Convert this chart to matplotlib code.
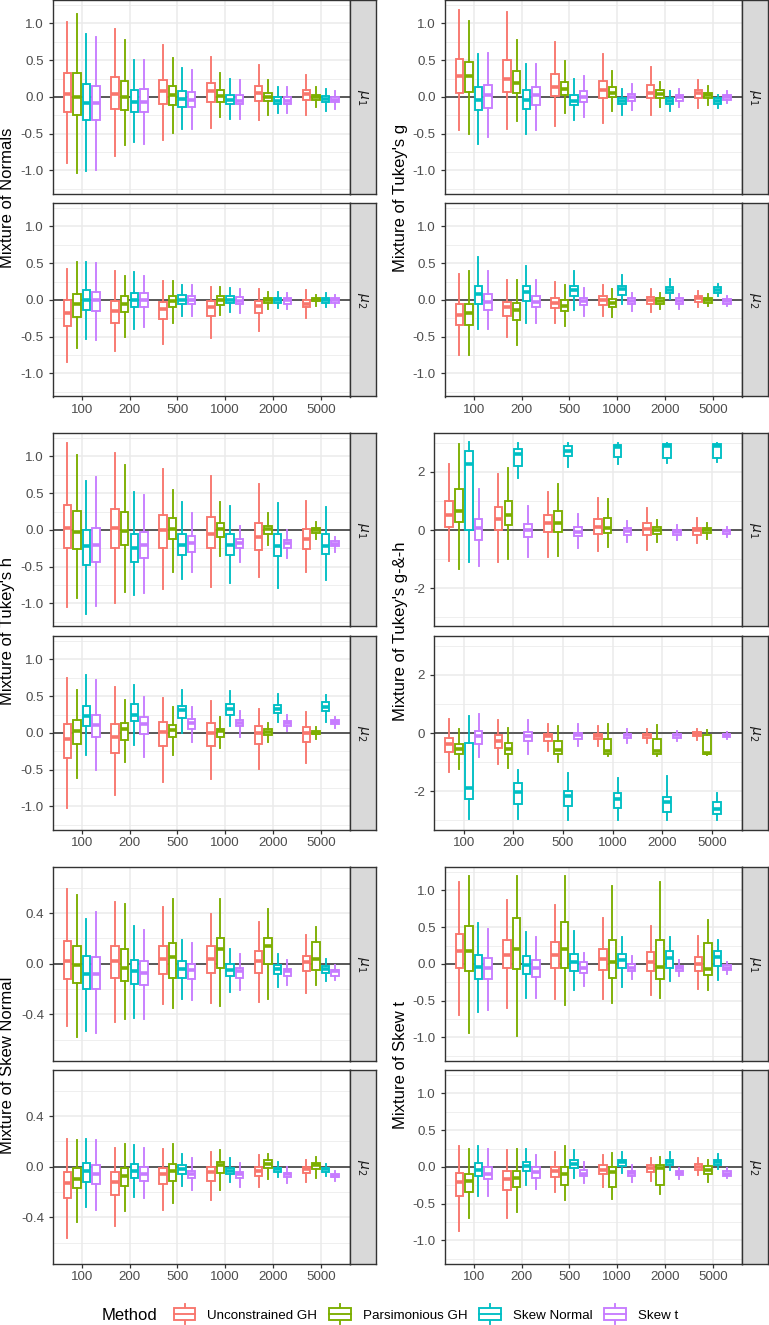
import matplotlib
matplotlib.use("Agg")
import matplotlib.pyplot as plt
from matplotlib.legend_handler import HandlerBase
from matplotlib.patches import Rectangle, Patch
from matplotlib.lines import Line2D
import numpy as np

plt.rcParams['font.family'] = ['Liberation Sans', 'DejaVu Sans']
plt.rcParams['axes.unicode_minus'] = False

W, H = 769, 1325

sample_sizes = ['100', '200', '500', '1000', '2000', '5000']
methods = ['Unconstrained GH', 'Parsimonious GH', 'Skew Normal', 'Skew t']
colors = ['#F8766D', '#7CAE00', '#00BFC4', '#C77CFF']

# every row: lower whisker, q1, median, q3, upper whisker
# rows run n=100 (UGH, PGH, SN, St), n=200 (...), ... n=5000
normals_mu1 = [
    [-0.90, -0.21, 0.04, 0.32, 1.02], [-1.04, -0.24, 0.00, 0.32, 1.13], [-1.01, -0.31, -0.08, 0.17, 0.86], [-0.99, -0.31, -0.08, 0.15, 0.81],
    [-0.80, -0.17, 0.04, 0.27, 0.93], [-0.65, -0.18, 0.00, 0.22, 0.77], [-0.61, -0.20, -0.07, 0.10, 0.50], [-0.64, -0.20, -0.07, 0.11, 0.50],
    [-0.59, -0.10, 0.08, 0.23, 0.71], [-0.49, -0.11, 0.02, 0.15, 0.53], [-0.44, -0.14, -0.03, 0.08, 0.39], [-0.44, -0.14, -0.04, 0.07, 0.37],
    [-0.42, -0.07, 0.08, 0.19, 0.55], [-0.27, -0.07, 0.01, 0.10, 0.33], [-0.30, -0.10, -0.04, 0.03, 0.24], [-0.30, -0.10, -0.05, 0.02, 0.23],
    [-0.32, -0.05, 0.05, 0.15, 0.44], [-0.24, -0.06, 0.00, 0.06, 0.23], [-0.22, -0.09, -0.05, 0.00, 0.13], [-0.22, -0.09, -0.05, 0.00, 0.14],
    [-0.24, -0.04, 0.04, 0.10, 0.30], [-0.14, -0.04, 0.00, 0.03, 0.14], [-0.19, -0.07, -0.03, 0.01, 0.11], [-0.17, -0.07, -0.04, 0.00, 0.08],
]
normals_mu2 = [
    [-0.85, -0.35, -0.18, 0.00, 0.42], [-0.65, -0.23, -0.06, 0.08, 0.52], [-0.53, -0.14, 0.00, 0.13, 0.52], [-0.54, -0.15, 0.00, 0.11, 0.50],
    [-0.70, -0.32, -0.15, -0.02, 0.40], [-0.51, -0.17, -0.05, 0.06, 0.32], [-0.39, -0.10, 0.00, 0.10, 0.38], [-0.37, -0.10, 0.00, 0.09, 0.32],
    [-0.60, -0.26, -0.13, -0.03, 0.26], [-0.31, -0.09, -0.01, 0.05, 0.26], [-0.22, -0.06, 0.00, 0.07, 0.21], [-0.22, -0.06, 0.00, 0.05, 0.21],
    [-0.52, -0.22, -0.10, -0.02, 0.17], [-0.20, -0.07, 0.00, 0.05, 0.18], [-0.16, -0.04, 0.00, 0.05, 0.16], [-0.18, -0.06, -0.01, 0.04, 0.15],
    [-0.42, -0.18, -0.08, -0.02, 0.15], [-0.13, -0.04, 0.00, 0.03, 0.11], [-0.11, -0.04, 0.00, 0.03, 0.11], [-0.13, -0.05, 0.00, 0.02, 0.10],
    [-0.25, -0.10, -0.06, 0.00, 0.13], [-0.08, -0.02, 0.00, 0.02, 0.07], [-0.10, -0.04, 0.00, 0.03, 0.09], [-0.10, -0.04, 0.00, 0.02, 0.07],
]
tukey_g_mu1 = [
    [-0.45, 0.05, 0.29, 0.51, 1.19], [-0.51, 0.07, 0.28, 0.47, 1.03], [-0.64, -0.18, -0.04, 0.14, 0.59], [-0.54, -0.15, 0.02, 0.16, 0.60],
    [-0.44, 0.07, 0.25, 0.50, 1.15], [-0.33, 0.05, 0.19, 0.35, 0.77], [-0.50, -0.17, -0.04, 0.09, 0.45], [-0.45, -0.11, 0.02, 0.14, 0.45],
    [-0.40, 0.01, 0.14, 0.31, 0.75], [-0.22, 0.02, 0.11, 0.21, 0.49], [-0.32, -0.11, -0.05, 0.03, 0.25], [-0.27, -0.07, 0.00, 0.08, 0.28],
    [-0.35, -0.02, 0.09, 0.22, 0.59], [-0.19, 0.00, 0.06, 0.14, 0.35], [-0.25, -0.10, -0.06, -0.01, 0.11], [-0.18, -0.05, 0.00, 0.04, 0.17],
    [-0.24, -0.01, 0.06, 0.16, 0.41], [-0.14, -0.01, 0.04, 0.09, 0.21], [-0.19, -0.10, -0.05, -0.02, 0.08], [-0.14, -0.05, 0.00, 0.03, 0.11],
    [-0.15, -0.01, 0.05, 0.09, 0.23], [-0.11, -0.02, 0.02, 0.05, 0.15], [-0.15, -0.09, -0.05, -0.02, 0.03], [-0.08, -0.04, 0.00, 0.02, 0.08],
]
tukey_g_mu2 = [
    [-0.75, -0.34, -0.20, -0.06, 0.35], [-0.75, -0.34, -0.18, -0.05, 0.39], [-0.40, -0.05, 0.08, 0.19, 0.58], [-0.40, -0.14, -0.03, 0.08, 0.40],
    [-0.51, -0.22, -0.10, -0.03, 0.27], [-0.61, -0.27, -0.14, -0.04, 0.27], [-0.32, -0.01, 0.11, 0.19, 0.46], [-0.32, -0.10, -0.03, 0.05, 0.27],
    [-0.32, -0.11, -0.04, 0.03, 0.25], [-0.36, -0.15, -0.08, 0.00, 0.20], [-0.14, 0.05, 0.13, 0.19, 0.39], [-0.22, -0.07, -0.01, 0.03, 0.16],
    [-0.22, -0.07, 0.00, 0.05, 0.20], [-0.23, -0.09, -0.04, 0.01, 0.15], [-0.06, 0.07, 0.15, 0.19, 0.34], [-0.15, -0.06, -0.02, 0.02, 0.10],
    [-0.16, -0.05, 0.00, 0.04, 0.15], [-0.13, -0.06, -0.01, 0.02, 0.10], [0.01, 0.09, 0.14, 0.18, 0.28], [-0.13, -0.06, -0.01, 0.02, 0.08],
    [-0.10, -0.03, 0.02, 0.05, 0.12], [-0.08, -0.04, 0.00, 0.03, 0.08], [0.05, 0.10, 0.14, 0.17, 0.22], [-0.08, -0.05, -0.01, 0.01, 0.05],
]
tukey_h_mu1 = [
    [-1.05, -0.24, 0.03, 0.34, 1.18], [-0.93, -0.26, -0.03, 0.26, 1.02], [-1.15, -0.48, -0.22, 0.00, 0.67], [-1.03, -0.44, -0.20, 0.03, 0.72],
    [-0.99, -0.24, 0.02, 0.28, 1.05], [-0.84, -0.20, -0.01, 0.24, 0.89], [-0.89, -0.43, -0.25, -0.06, 0.51], [-0.86, -0.38, -0.21, -0.03, 0.48],
    [-0.81, -0.24, 0.00, 0.21, 0.83], [-0.57, -0.13, 0.01, 0.16, 0.54], [-0.67, -0.34, -0.21, -0.05, 0.38], [-0.57, -0.30, -0.18, -0.08, 0.23],
    [-0.78, -0.25, -0.06, 0.17, 0.74], [-0.36, -0.10, 0.01, 0.10, 0.38], [-0.72, -0.34, -0.20, -0.05, 0.33], [-0.43, -0.25, -0.18, -0.12, 0.05],
    [-0.64, -0.27, -0.09, 0.10, 0.62], [-0.21, -0.06, 0.01, 0.06, 0.23], [-0.79, -0.35, -0.22, -0.05, 0.36], [-0.38, -0.24, -0.18, -0.14, 0.00],
    [-0.57, -0.26, -0.12, 0.01, 0.39], [-0.13, -0.04, 0.00, 0.03, 0.11], [-0.68, -0.33, -0.22, -0.05, 0.31], [-0.30, -0.22, -0.19, -0.15, -0.09],
]
tukey_h_mu2 = [
    [-1.02, -0.34, -0.08, 0.12, 0.75], [-0.61, -0.15, 0.02, 0.17, 0.58], [-0.30, 0.09, 0.23, 0.37, 0.79], [-0.50, -0.05, 0.11, 0.25, 0.72],
    [-0.84, -0.27, -0.05, 0.12, 0.63], [-0.40, -0.09, 0.05, 0.14, 0.45], [-0.17, 0.16, 0.25, 0.39, 0.65], [-0.33, -0.01, 0.12, 0.22, 0.49],
    [-0.67, -0.18, 0.01, 0.15, 0.48], [-0.30, -0.06, 0.04, 0.11, 0.35], [0.00, 0.21, 0.31, 0.37, 0.59], [-0.13, 0.05, 0.13, 0.19, 0.35],
    [-0.63, -0.18, 0.00, 0.14, 0.43], [-0.20, -0.05, 0.02, 0.06, 0.22], [0.09, 0.25, 0.32, 0.39, 0.57], [-0.05, 0.09, 0.14, 0.18, 0.30],
    [-0.49, -0.15, 0.00, 0.10, 0.32], [-0.13, -0.03, 0.01, 0.05, 0.14], [0.15, 0.27, 0.33, 0.38, 0.53], [0.03, 0.10, 0.14, 0.16, 0.24],
    [-0.41, -0.12, 0.00, 0.08, 0.29], [-0.08, -0.02, 0.00, 0.03, 0.08], [0.15, 0.30, 0.35, 0.42, 0.51], [0.07, 0.12, 0.15, 0.17, 0.22],
]
tukey_gh_mu1 = [
    [-1.07, 0.10, 0.51, 0.98, 2.27], [-1.33, 0.28, 0.66, 1.41, 2.95], [-1.11, 0.01, 2.27, 2.72, 3.02], [-1.22, -0.33, 0.07, 0.38, 1.41],
    [-1.11, 0.01, 0.39, 0.79, 1.91], [-0.98, 0.17, 0.52, 0.98, 2.13], [1.80, 2.20, 2.60, 2.78, 3.00], [-0.92, -0.25, 0.00, 0.22, 0.83],
    [-0.92, -0.07, 0.25, 0.52, 1.32], [-0.90, -0.06, 0.24, 0.64, 1.57], [2.18, 2.55, 2.71, 2.88, 2.99], [-0.62, -0.22, -0.07, 0.10, 0.55],
    [-0.71, -0.14, 0.09, 0.38, 1.09], [-0.58, -0.10, 0.07, 0.43, 1.06], [2.26, 2.52, 2.84, 2.92, 2.99], [-0.41, -0.17, -0.02, 0.07, 0.30],
    [-0.67, -0.16, 0.05, 0.24, 0.77], [-0.42, -0.14, 0.01, 0.09, 0.35], [2.31, 2.46, 2.89, 2.94, 2.99], [-0.33, -0.16, -0.07, 0.01, 0.18],
    [-0.44, -0.16, -0.01, 0.07, 0.41], [-0.30, -0.10, 0.00, 0.07, 0.24], [2.35, 2.46, 2.89, 2.94, 2.99], [-0.25, -0.13, -0.05, 0.01, 0.10],
]
tukey_gh_mu2 = [
    [-1.33, -0.65, -0.36, -0.17, 0.49], [-1.22, -0.73, -0.54, -0.36, 0.15], [-2.95, -2.25, -1.87, -0.34, 0.58], [-0.82, -0.36, -0.11, 0.07, 0.66],
    [-1.05, -0.50, -0.27, -0.08, 0.46], [-1.20, -0.71, -0.54, -0.34, 0.17], [-2.96, -2.42, -2.02, -1.71, -1.28], [-0.71, -0.27, -0.11, 0.03, 0.46],
    [-0.62, -0.28, -0.11, -0.05, 0.30], [-0.99, -0.71, -0.59, -0.27, 0.24], [-2.99, -2.51, -2.17, -1.99, -1.37], [-0.46, -0.19, -0.08, 0.00, 0.30],
    [-0.46, -0.22, -0.11, -0.02, 0.24], [-0.80, -0.71, -0.63, -0.22, 0.30], [-2.99, -2.56, -2.25, -2.05, -1.54], [-0.34, -0.16, -0.08, -0.02, 0.14],
    [-0.34, -0.16, -0.08, -0.02, 0.13], [-0.79, -0.71, -0.62, -0.19, 0.26], [-2.99, -2.70, -2.36, -2.19, -1.48], [-0.27, -0.16, -0.08, -0.02, 0.07],
    [-0.23, -0.10, -0.02, 0.03, 0.13], [-0.76, -0.73, -0.67, -0.08, 0.09], [-2.99, -2.78, -2.59, -2.36, -2.07], [-0.22, -0.14, -0.08, -0.02, 0.02],
]
skew_normal_mu1 = [
    [-0.49, -0.12, 0.02, 0.18, 0.59], [-0.58, -0.15, -0.01, 0.14, 0.54], [-0.53, -0.20, -0.08, 0.06, 0.35], [-0.55, -0.20, -0.08, 0.05, 0.41],
    [-0.46, -0.11, 0.02, 0.14, 0.49], [-0.44, -0.14, -0.03, 0.12, 0.47], [-0.43, -0.16, -0.06, 0.03, 0.30], [-0.44, -0.17, -0.07, 0.02, 0.27],
    [-0.32, -0.08, 0.04, 0.14, 0.45], [-0.35, -0.11, 0.05, 0.16, 0.51], [-0.28, -0.11, -0.04, 0.02, 0.19], [-0.29, -0.12, -0.05, 0.00, 0.16],
    [-0.31, -0.07, 0.04, 0.14, 0.39], [-0.33, -0.03, 0.12, 0.20, 0.51], [-0.22, -0.10, -0.05, 0.00, 0.12], [-0.21, -0.11, -0.06, -0.03, 0.08],
    [-0.30, -0.07, 0.02, 0.10, 0.33], [-0.28, 0.00, 0.14, 0.20, 0.43], [-0.18, -0.08, -0.04, -0.01, 0.08], [-0.17, -0.10, -0.06, -0.04, 0.03],
    [-0.23, -0.06, 0.01, 0.06, 0.23], [-0.17, -0.05, 0.04, 0.17, 0.29], [-0.14, -0.07, -0.04, -0.02, 0.04], [-0.13, -0.10, -0.06, -0.05, -0.01],
]
skew_normal_mu2 = [
    [-0.56, -0.25, -0.13, -0.04, 0.22], [-0.44, -0.17, -0.10, -0.01, 0.21], [-0.32, -0.12, -0.03, 0.03, 0.22], [-0.34, -0.14, -0.06, 0.01, 0.21],
    [-0.47, -0.22, -0.12, -0.04, 0.15], [-0.35, -0.15, -0.07, -0.01, 0.18], [-0.24, -0.09, -0.03, 0.02, 0.17], [-0.25, -0.11, -0.06, 0.00, 0.15],
    [-0.34, -0.14, -0.06, -0.01, 0.14], [-0.29, -0.11, -0.03, 0.02, 0.18], [-0.15, -0.06, -0.02, 0.01, 0.10], [-0.18, -0.09, -0.06, -0.03, 0.07],
    [-0.26, -0.11, -0.04, 0.00, 0.12], [-0.18, -0.05, 0.01, 0.04, 0.13], [-0.12, -0.06, -0.03, -0.01, 0.07], [-0.16, -0.09, -0.06, -0.04, 0.03],
    [-0.16, -0.07, -0.03, 0.00, 0.09], [-0.10, -0.01, 0.02, 0.05, 0.10], [-0.08, -0.04, -0.02, -0.01, 0.04], [-0.13, -0.08, -0.06, -0.05, 0.00],
    [-0.12, -0.05, -0.02, 0.00, 0.05], [-0.09, -0.02, 0.01, 0.03, 0.08], [-0.07, -0.04, -0.02, -0.01, 0.02], [-0.11, -0.08, -0.07, -0.06, -0.03],
]
skew_t_mu1 = [
    [-0.70, -0.06, 0.17, 0.41, 1.11], [-0.94, -0.09, 0.18, 0.51, 1.20], [-0.65, -0.20, -0.04, 0.12, 0.56], [-0.63, -0.21, -0.06, 0.08, 0.47],
    [-0.60, -0.05, 0.12, 0.32, 0.87], [-0.98, -0.07, 0.21, 0.62, 1.20], [-0.47, -0.14, -0.01, 0.11, 0.44], [-0.47, -0.18, -0.05, 0.05, 0.36],
    [-0.48, -0.05, 0.12, 0.30, 0.80], [-0.56, -0.06, 0.21, 0.57, 1.20], [-0.35, -0.09, 0.03, 0.14, 0.45], [-0.30, -0.12, -0.05, 0.02, 0.15],
    [-0.48, -0.08, 0.07, 0.20, 0.62], [-0.53, -0.19, 0.03, 0.32, 1.06], [-0.31, -0.05, 0.05, 0.14, 0.37], [-0.21, -0.09, -0.05, 0.00, 0.11],
    [-0.42, -0.09, 0.03, 0.16, 0.52], [-0.47, -0.20, -0.04, 0.32, 1.11], [-0.23, -0.05, 0.08, 0.18, 0.36], [-0.17, -0.10, -0.05, -0.03, 0.05],
    [-0.34, -0.10, 0.00, 0.09, 0.38], [-0.36, -0.15, -0.07, 0.29, 0.60], [-0.22, -0.03, 0.09, 0.18, 0.33], [-0.14, -0.08, -0.05, -0.02, 0.02],
]
skew_t_mu2 = [
    [-0.87, -0.40, -0.20, -0.08, 0.29], [-0.70, -0.34, -0.19, -0.09, 0.24], [-0.40, -0.12, -0.04, 0.06, 0.28], [-0.40, -0.17, -0.09, 0.00, 0.25],
    [-0.70, -0.32, -0.16, -0.05, 0.23], [-0.61, -0.28, -0.15, -0.05, 0.25], [-0.25, -0.06, 0.01, 0.07, 0.24], [-0.30, -0.15, -0.07, 0.00, 0.16],
    [-0.34, -0.14, -0.06, 0.00, 0.20], [-0.45, -0.25, -0.10, 0.00, 0.29], [-0.15, -0.02, 0.04, 0.09, 0.23], [-0.22, -0.12, -0.09, -0.04, 0.07],
    [-0.27, -0.10, -0.04, 0.02, 0.16], [-0.44, -0.27, -0.07, 0.00, 0.19], [-0.08, 0.01, 0.07, 0.10, 0.21], [-0.20, -0.12, -0.08, -0.05, 0.03],
    [-0.19, -0.07, -0.01, 0.03, 0.12], [-0.37, -0.25, -0.01, 0.02, 0.14], [-0.04, 0.02, 0.07, 0.10, 0.20], [-0.17, -0.11, -0.08, -0.05, -0.01],
    [-0.11, -0.04, 0.00, 0.04, 0.12], [-0.20, -0.09, -0.04, 0.01, 0.09], [-0.03, 0.02, 0.07, 0.10, 0.17], [-0.15, -0.12, -0.09, -0.05, -0.02],
]

offsets = [-0.3, -0.1, 0.1, 0.3]

std_ticks = ([-1.0, -0.5, 0.0, 0.5, 1.0], ['-1.0', '-0.5', '0.0', '0.5', '1.0'], [-1.25, -0.75, -0.25, 0.25, 0.75, 1.25], (-1.315, 1.32))
gh_ticks = ([-2, 0, 2], ['-2', '0', '2'], [-3, -1, 1, 3], (-3.31, 3.33))
sn_ticks = ([-0.4, 0.0, 0.4], ['-0.4', '0.0', '0.4'], [-0.6, -0.2, 0.2, 0.6], (-0.764, 0.764))

# title, mu1, mu2, ticks, column, row, axes left (px)
scenarios = [
    ('Mixture of Normals', normals_mu1, normals_mu2, std_ticks, 0, 0, 53),
    ("Mixture of Tukey's g", tukey_g_mu1, tukey_g_mu2, std_ticks, 1, 0, 445),
    ("Mixture of Tukey's h", tukey_h_mu1, tukey_h_mu2, std_ticks, 0, 1, 53),
    ("Mixture of Tukey's g-&-h", tukey_gh_mu1, tukey_gh_mu2, gh_ticks, 1, 1, 434),
    ('Mixture of Skew Normal', skew_normal_mu1, skew_normal_mu2, sn_ticks, 0, 2, 53),
    ('Mixture of Skew t', skew_t_mu1, skew_t_mu2, std_ticks, 1, 2, 445),
]

row_tops = [0, 433, 867]
panel_h = 193.5
gap = 9.5
col_right = [349.5, 741.5]
strip_w = 26.5
ylab_x = [8, 400]

fig = plt.figure(figsize=(W / 100, H / 100), dpi=100)


def px_axes(x0, y0, x1, y1):
    return fig.add_axes([x0 / W, 1 - y1 / H, (x1 - x0) / W, (y1 - y0) / H])


def draw_panel(ax, rows, ticks, show_x):
    major, labels, minor, ylim = ticks
    ax.set_xlim(0.4, 6.6)
    ax.set_ylim(*ylim)
    ax.axhline(0, color='#4D4D4D', lw=1.3, zorder=1.5)
    for j, color in enumerate(colors):
        stats = []
        for i in range(len(sample_sizes)):
            lo, q1, med, q3, hi = rows[i * 4 + j]
            stats.append(dict(whislo=lo, q1=q1, med=med, q3=q3, whishi=hi))
        pos = np.arange(1, len(sample_sizes) + 1) + offsets[j]
        ax.bxp(stats, positions=pos, widths=0.155, showfliers=False, showcaps=False,
               patch_artist=True, manage_ticks=False, zorder=3,
               boxprops=dict(facecolor='white', edgecolor=color, linewidth=1.35),
               whiskerprops=dict(color=color, linewidth=1.35),
               medianprops=dict(color=color, linewidth=2.6, solid_capstyle='butt'))
    ax.set_yticks(major)
    ax.set_yticklabels(labels)
    ax.set_yticks(minor, minor=True)
    ax.set_xticks(np.arange(1, len(sample_sizes) + 1))
    if show_x:
        ax.set_xticklabels(sample_sizes)
        ax.tick_params(axis='x', length=3, width=0.9, color='#333333', pad=2.5,
                       labelsize=9.6, labelcolor='#4D4D4D')
    else:
        ax.set_xticklabels([])
        ax.tick_params(axis='x', length=0)
    ax.tick_params(axis='y', length=3, width=0.9, color='#333333', pad=3.5,
                   labelsize=9.6, labelcolor='#4D4D4D')
    ax.tick_params(which='minor', length=0)
    ax.grid(which='major', color='#EBEBEB', lw=1.1)
    ax.grid(which='minor', axis='y', color='#EBEBEB', lw=0.55)
    ax.set_axisbelow(True)
    for s in ax.spines.values():
        s.set_color('#333333')
        s.set_linewidth(1.0)


def draw_strip(x0, y0, y1, label):
    sax = px_axes(x0, y0, x0 + strip_w, y1)
    sax.set_facecolor('#D9D9D9')
    sax.set_xticks([])
    sax.set_yticks([])
    for s in sax.spines.values():
        s.set_color('#333333')
        s.set_linewidth(1.0)
    sax.text(0.5, 0.5, label, rotation=-90, ha='center', va='center',
             fontsize=10, color='#1A1A1A', transform=sax.transAxes)


for title, mu1, mu2, ticks, col, row, left in scenarios:
    top = row_tops[row]
    right = col_right[col]
    y_top = (top, top + panel_h)
    y_bot = (top + panel_h + gap, top + 2 * panel_h + gap)
    ax1 = px_axes(left, y_top[0], right, y_top[1])
    draw_panel(ax1, mu1, ticks, False)
    draw_strip(right, y_top[0], y_top[1], r'$\mu_1$')
    ax2 = px_axes(left, y_bot[0], right, y_bot[1])
    draw_panel(ax2, mu2, ticks, True)
    draw_strip(right, y_bot[0], y_bot[1], r'$\mu_2$')
    mid = (y_top[0] + y_bot[1]) / 2
    fig.text(ylab_x[col] / W, 1 - mid / H, title, rotation=90, ha='center', va='center',
             fontsize=12, color='black')


class BoxKey(HandlerBase):
    def create_artists(self, legend, orig_handle, xdescent, ydescent, width, height, fontsize, trans):
        c = orig_handle.get_edgecolor()
        x0, y0 = -xdescent, -ydescent
        ext = height * 0.35
        rect = Rectangle((x0, y0), width, height, facecolor='white', edgecolor=c, lw=1.35, transform=trans)
        mid = Line2D([x0, x0 + width], [y0 + height / 2] * 2, color=c, lw=1.35, transform=trans)
        xm = x0 + width / 2
        w1 = Line2D([xm, xm], [y0 + height, y0 + height + ext], color=c, lw=1.35, transform=trans)
        w2 = Line2D([xm, xm], [y0 - ext, y0], color=c, lw=1.35, transform=trans)
        return [w1, w2, rect, mid]


handles = [Patch(facecolor='white', edgecolor=c) for c in colors]
leg_y = 1 - 1315 / H
fig.legend(handles, methods, handler_map={Patch: BoxKey()}, loc='center',
           bbox_to_anchor=(426 / W, leg_y), ncol=4, frameon=False, fontsize=9.6,
           handlelength=1.6, handleheight=1.0, handletextpad=0.9, columnspacing=0.9,
           borderpad=0)
fig.text(102 / W, leg_y, 'Method', fontsize=12, ha='left', va='center')

fig.savefig('out.png', dpi=100)
